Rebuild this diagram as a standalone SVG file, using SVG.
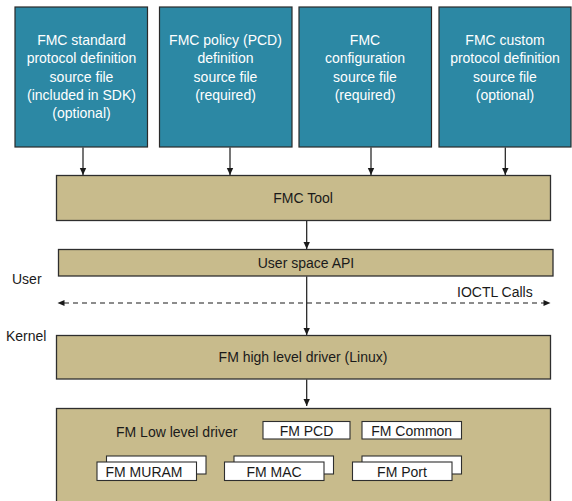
<svg xmlns="http://www.w3.org/2000/svg" width="572" height="501" viewBox="0 0 572 501">
<style>
.src{fill:#2c88a4;stroke:#2a2a2a;stroke-width:1.2}
.tan{fill:#c8bb8c;stroke:#2e2e2e;stroke-width:1.3}
.wb{fill:#ffffff;stroke:#2e2e2e;stroke-width:1.1}
text{font-family:"Liberation Sans",Arial,Helvetica,sans-serif;font-size:14px;fill:#1a1a1a}
.wt{fill:#ffffff;text-anchor:middle}
.c{text-anchor:middle}
.ln{stroke:#1a1a1a;stroke-width:1.2;fill:none}
.dash{stroke:#1a1a1a;stroke-width:1.2;fill:none;stroke-dasharray:5,4}
</style>
<defs>
<marker id="ah" markerWidth="8" markerHeight="8" refX="7" refY="4" orient="auto" markerUnits="userSpaceOnUse">
<path d="M0,0.8 L7,4 L0,7.2 Z" fill="#1a1a1a"/>
</marker>
</defs>
<rect width="572" height="501" fill="#ffffff"/>
<g id="src1">
<rect class="src" x="15" y="7" width="132.5" height="140"/>
<text class="wt" x="81.5" y="45">FMC standard</text>
<text class="wt" x="81.5" y="63">protocol definition</text>
<text class="wt" x="81.5" y="82">source file</text>
<text class="wt" x="81.5" y="100">(included in SDK)</text>
<text class="wt" x="81.5" y="118">(optional)</text>
</g>
<g id="src2">
<rect class="src" x="159.5" y="7" width="132.5" height="140"/>
<text class="wt" x="225.5" y="45">FMC policy (PCD)</text>
<text class="wt" x="225.5" y="63">definition</text>
<text class="wt" x="225.5" y="82">source file</text>
<text class="wt" x="225.5" y="100">(required)</text>
</g>
<g id="src3">
<rect class="src" x="299" y="7" width="132.5" height="140"/>
<text class="wt" x="365" y="45">FMC</text>
<text class="wt" x="365" y="63">configuration</text>
<text class="wt" x="365" y="82">source file</text>
<text class="wt" x="365" y="100">(required)</text>
</g>
<g id="src4">
<rect class="src" x="439" y="7" width="132" height="140"/>
<text class="wt" x="505" y="45">FMC custom</text>
<text class="wt" x="505" y="63">protocol definition</text>
<text class="wt" x="505" y="82">source file</text>
<text class="wt" x="505" y="100">(optional)</text>
</g>
<g id="fmctool">
<rect class="tan" x="56.5" y="175.5" width="494" height="45"/>
<text class="c" x="303" y="203">FMC Tool</text>
</g>
<g id="userapi">
<rect class="tan" x="58.5" y="249.5" width="494.5" height="26.5"/>
<text class="c" x="306" y="268">User space API</text>
</g>
<g id="hld">
<rect class="tan" x="56.5" y="335.5" width="494" height="43.5"/>
<text class="c" x="303" y="362">FM high level driver (Linux)</text>
</g>
<g id="lld">
<rect class="tan" x="56.5" y="408.5" width="494" height="96"/>
<text x="116" y="437">FM Low level driver</text>
</g>
<g id="fmpcd">
<rect class="wb" x="263" y="421.5" width="87" height="17.5"/>
<text class="c" x="306.5" y="435.5">FM PCD</text>
</g>
<g id="fmcommon">
<rect class="wb" x="362" y="421.5" width="99.5" height="17.5"/>
<text class="c" x="411.7" y="435.5">FM Common</text>
</g>
<g id="fmmuram">
<rect class="wb" x="106.5" y="456" width="99.5" height="18"/>
<rect class="wb" x="97" y="462" width="99.5" height="18.5"/>
<text class="c" x="144" y="476.5">FM MURAM</text>
</g>
<g id="fmmac">
<rect class="wb" x="234" y="456" width="99.5" height="18"/>
<rect class="wb" x="224.5" y="462" width="99.5" height="18.5"/>
<text class="c" x="274" y="476.5">FM MAC</text>
</g>
<g id="fmport">
<rect class="wb" x="362" y="456" width="99.5" height="18"/>
<rect class="wb" x="352.5" y="462" width="99.5" height="18.5"/>
<text class="c" x="402" y="476.5">FM Port</text>
</g>
<g id="labels">
<text x="12" y="284">User</text>
<text x="6" y="340.5">Kernel</text>
<text x="457" y="297">IOCTL Calls</text>
</g>
<g id="connectors">
<line class="ln" x1="83" y1="147.5" x2="83" y2="175" marker-end="url(#ah)"/>
<line class="ln" x1="230" y1="147.5" x2="230" y2="175" marker-end="url(#ah)"/>
<line class="ln" x1="371" y1="147.5" x2="371" y2="175" marker-end="url(#ah)"/>
<line class="ln" x1="505.3" y1="147.5" x2="505.3" y2="175" marker-end="url(#ah)"/>
<line class="ln" x1="306.7" y1="221" x2="306.7" y2="249" marker-end="url(#ah)"/>
<line class="ln" x1="306.7" y1="276.5" x2="306.7" y2="335" marker-end="url(#ah)"/>
<line class="ln" x1="306.7" y1="379.5" x2="306.7" y2="406" marker-end="url(#ah)"/>
<line class="dash" x1="64" y1="303" x2="544" y2="303"/>
<path d="M57.5,303 L64.5,300 L64.5,306 Z" fill="#1a1a1a"/>
<path d="M550.5,303 L543.5,300 L543.5,306 Z" fill="#1a1a1a"/>
</g>
</svg>
